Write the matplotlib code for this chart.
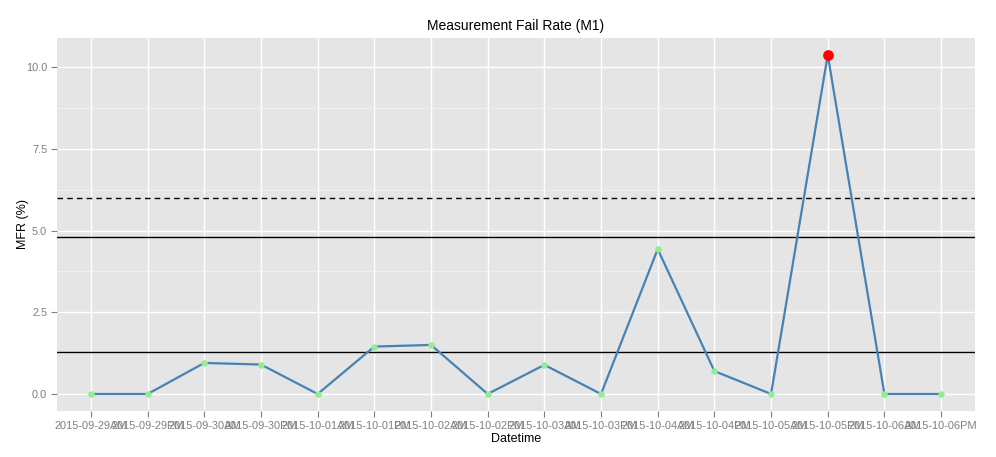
import numpy as np
import matplotlib.pyplot as plt

plt.rcParams['font.family'] = ['Liberation Sans', 'DejaVu Sans']

labels = ['2015-09-29AM', '2015-09-29PM', '2015-09-30AM', '2015-09-30PM',
          '2015-10-01AM', '2015-10-01PM', '2015-10-02AM', '2015-10-02PM',
          '2015-10-03AM', '2015-10-03PM', '2015-10-04AM', '2015-10-04PM',
          '2015-10-05AM', '2015-10-05PM', '2015-10-06AM', '2015-10-06PM']
mfr = [0.0, 0.0, 0.95, 0.90, 0.0, 1.45, 1.50, 0.0,
       0.89, 0.0, 4.43, 0.70, 0.0, 10.37, 0.0, 0.0]
ucl = 6.0
mean_hi = 4.8
mean_lo = 1.28

x = np.arange(len(labels))
y = np.array(mfr)

fig = plt.figure(figsize=(9.96, 4.57), dpi=100)
ax = fig.add_axes([0.0572, 0.1007, 0.9218, 0.8163])
ax.set_facecolor('#E5E5E5')
for s in ax.spines.values():
    s.set_visible(False)

ax.set_xlim(-0.6, len(labels) - 1 + 0.6)
ax.set_ylim(-0.52, 10.89)
ax.set_yticks([0, 2.5, 5, 7.5, 10])
ax.set_yticklabels(['0.0', '2.5', '5.0', '7.5', '10.0'])
ax.set_yticks([1.25, 3.75, 6.25, 8.75], minor=True)
ax.set_xticks(x)
ax.set_xticklabels(labels)

ax.grid(True, which='major', color='white', linewidth=1.0)
ax.grid(True, which='minor', axis='y', color='#F2F2F2', linewidth=0.6)
ax.set_axisbelow(True)
ax.tick_params(which='major', colors='#7F7F7F', labelsize=7.9, length=4, width=0.8, pad=3)
ax.tick_params(which='minor', length=0)

ax.axhline(ucl, color='black', linestyle=(0, (4, 3)), linewidth=1.0)
ax.axhline(mean_hi, color='black', linewidth=1.0)
ax.axhline(mean_lo, color='black', linewidth=1.0)

ax.plot(x, y, color='#4682B4', linewidth=1.6, zorder=3)
ax.scatter(x, y, s=22, color='#90EE90', zorder=4, linewidths=0)
imax = int(np.argmax(y))
ax.scatter([x[imax]], [y[imax]], s=60, color='red', zorder=5, linewidths=0)

ax.set_title('Measurement Fail Rate (M1)', fontsize=10, pad=6)
ax.set_xlabel('Datetime', fontsize=9, labelpad=2)
ax.set_ylabel('MFR (%)', fontsize=9)
ax.yaxis.set_label_coords(-0.03, 0.5)

fig.savefig('out.png', dpi=100)
